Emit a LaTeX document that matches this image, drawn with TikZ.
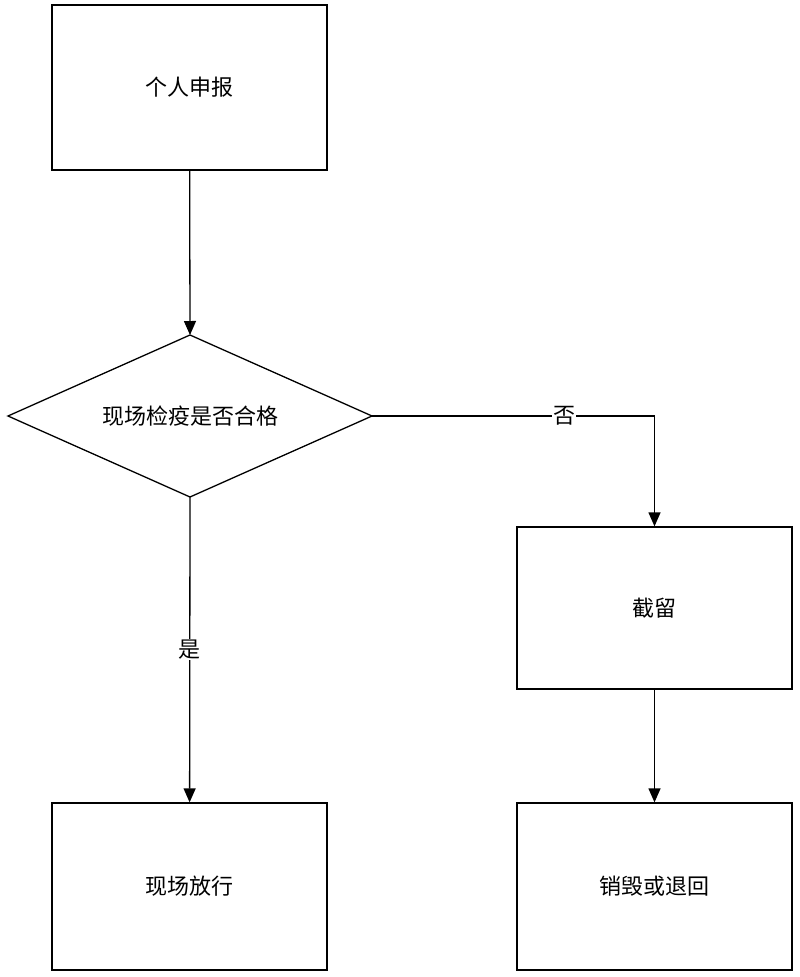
\documentclass[tikz,border=0pt]{standalone}
\usepackage{fontspec}
\newfontfamily\cjk{Noto Sans CJK SC}
\usetikzlibrary{arrows.meta}
\begin{document}
\begin{tikzpicture}[x=1pt,y=-1pt,
  box/.style={draw,line width=1.3pt,minimum width=275pt,minimum height=165pt,inner sep=0pt,font=\cjk\fontsize{22}{22}\selectfont},
  arr/.style={line width=1.3pt,-{Triangle[length=14pt,width=12pt]}},
  lab/.style={fill=white,inner sep=1pt,font=\cjk\fontsize{22}{22}\selectfont}]
\useasboundingbox (0,0) rectangle (800,977);
\node[box] (a) at (189.5,87.5) {个人申报};
\node[box,minimum height=167pt] (b) at (189.5,886.5) {现场放行};
\node[box,minimum height=162pt] (c) at (654.5,608) {截留};
\node[box,minimum height=167pt] (d) at (654.5,886.5) {销毁或退回};
\draw[line width=1.3pt] (8,416) coordinate (dl) -- (190,335) coordinate (dt) -- (372,416) coordinate (dr) -- (190,497) coordinate (db) -- cycle;
\node[font=\cjk\fontsize{22}{22}\selectfont] (q) at (190,416) {现场检疫是否合格};
\draw[arr] (a) -- (dt);
\draw[arr] (db) -- node[lab,pos=0.5] {是} (b);
\draw[arr] (dr) -- node[lab,pos=0.68] {否} (654.5,416) -- (c);
\draw[arr] (c) -- (d);
\end{tikzpicture}
\end{document}
